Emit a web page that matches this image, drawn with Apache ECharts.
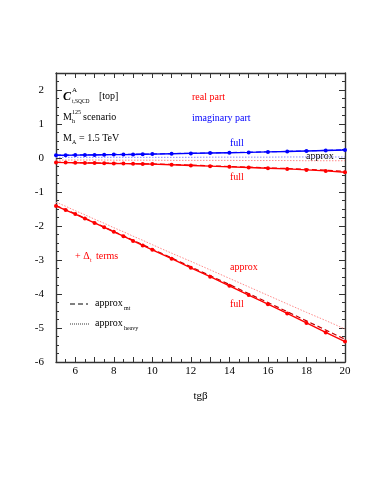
<!DOCTYPE html>
<html><head><meta charset="utf-8">
<script src="https://cdn.jsdelivr.net/npm/echarts@6/dist/echarts.min.js"></script>
<style>html,body{margin:0;padding:0;background:#fff}#c{width:383px;height:495px}</style>
</head><body><div id="c"></div>
<script>
// tg beta sample points
const tgb = [5,5.5,6,6.5,7,7.5,8,8.5,9,9.5,10,11,12,13,14,15,16,17,18,19,20];
// imaginary part (blue)
const imFull   = [0.08,0.08,0.085,0.09,0.09,0.095,0.10,0.10,0.105,0.11,0.115,0.125,0.135,0.145,0.155,0.165,0.18,0.19,0.205,0.22,0.235];
const imMt     = [0.085,0.085,0.09,0.095,0.095,0.10,0.105,0.105,0.11,0.115,0.12,0.13,0.14,0.15,0.16,0.17,0.185,0.195,0.21,0.225,0.24];
const imHeavy  = [0.02,0.02,0.02,0.02,0.02,0.02,0.02,0.02,0.02,0.02,0.02,0.02,0.02,0.025,0.025,0.025,0.025,0.03,0.03,0.03,0.03];
// real part (red)
const reFull   = [-0.13,-0.135,-0.14,-0.145,-0.15,-0.155,-0.16,-0.165,-0.17,-0.175,-0.18,-0.20,-0.22,-0.24,-0.26,-0.28,-0.30,-0.32,-0.35,-0.38,-0.42];
const reMt     = [-0.125,-0.13,-0.135,-0.14,-0.145,-0.15,-0.155,-0.16,-0.165,-0.17,-0.175,-0.19,-0.21,-0.23,-0.25,-0.27,-0.29,-0.31,-0.33,-0.36,-0.39];
const reHeavy  = [-0.06,-0.06,-0.06,-0.06,-0.06,-0.06,-0.065,-0.065,-0.065,-0.065,-0.065,-0.07,-0.07,-0.07,-0.07,-0.075,-0.075,-0.075,-0.08,-0.08,-0.08];
// real part + Delta_t terms (red)
const dtFull   = [-1.41,-1.53,-1.65,-1.78,-1.91,-2.04,-2.17,-2.30,-2.44,-2.57,-2.70,-2.96,-3.23,-3.49,-3.76,-4.03,-4.30,-4.57,-4.85,-5.13,-5.40];
const dtMt     = [-1.40,-1.52,-1.64,-1.77,-1.90,-2.03,-2.16,-2.29,-2.42,-2.55,-2.68,-2.94,-3.20,-3.46,-3.72,-3.99,-4.25,-4.52,-4.79,-5.06,-5.33];
const dtHeavy  = [-1.30,-1.42,-1.55,-1.67,-1.80,-1.92,-2.05,-2.17,-2.30,-2.42,-2.55,-2.80,-3.04,-3.29,-3.54,-3.79,-4.04,-4.29,-4.54,-4.78,-5.03];
const yTicks = [-6,-5,-4,-3,-2,-1,0,1,2];
const xTicks = [6,8,10,12,14,16,18,20];

const pair = a => tgb.map((x,i)=>[x,a[i]]);
const RED='#ff0000', BLUE='#0000ff', PINK='#ff8a8a', LBLUE='#8a8aff';
const F='Liberation Serif';
function full(name,d,c){return {name,type:'line',data:pair(d),symbol:'circle',symbolSize:4,itemStyle:{color:c},lineStyle:{color:c,width:1.4},z:5};}
function mt(name,d,c){return {name,type:'line',data:pair(d),symbol:'none',lineStyle:{color:c,width:1.2,type:[5,3]},z:4};}
function hv(name,d,c){return {name,type:'line',data:pair(d),symbol:'none',lineStyle:{color:c,width:1,type:[1.5,1.5]},z:3};}

const AX={color:'#333',width:1.4};
const baseX={type:'value',min:5,max:20,interval:1,axisLine:{show:true,onZero:false,lineStyle:AX},splitLine:{show:false},
  axisTick:{show:true,inside:true,length:5,lineStyle:{color:'#333'}},minorTick:{show:true,splitNumber:2,length:3,lineStyle:{color:'#333'}}};
const baseY={type:'value',min:-6,max:2.5,interval:1,axisLine:{show:true,onZero:false,lineStyle:AX},splitLine:{show:false},
  axisTick:{show:true,inside:true,length:6,lineStyle:{color:'#333'}},minorTick:{show:true,splitNumber:4,length:3,lineStyle:{color:'#333'}}};

function txt(x,y,t,size,color,extra){return {type:'text',left:x,top:y,style:Object.assign({text:t,font:(size||10)+'px "'+F+'"',fill:color||'#000'},extra||{})};}

const chart=echarts.init(document.getElementById('c'),null,{renderer:'canvas'});
chart.setOption({
  backgroundColor:'#fff',
  animation:false,
  grid:{left:56,right:38,top:73,bottom:133},
  xAxis:[
    Object.assign({},baseX,{position:'bottom',name:'tgβ',nameLocation:'middle',nameGap:29,nameTextStyle:{fontFamily:F,fontSize:11,color:'#000'},
      axisLabel:{fontFamily:F,fontSize:11,color:'#000',margin:4,formatter:v=>xTicks.indexOf(v)>=0?String(v):''}}),
    Object.assign({},baseX,{position:'top',axisLabel:{show:false}})
  ],
  yAxis:[
    Object.assign({},baseY,{position:'left',axisLabel:{fontFamily:F,fontSize:11,color:'#000',margin:12,formatter:v=>yTicks.indexOf(v)>=0?String(v):''}}),
    Object.assign({},baseY,{position:'right',axisLabel:{show:false}})
  ],
  series:[
    hv('im heavy',imHeavy,LBLUE), hv('re heavy',reHeavy,PINK), hv('dt heavy',dtHeavy,PINK),
    mt('im mt',imMt,'#3030ff'), mt('re mt',reMt,'#e00000'), mt('dt mt',dtMt,'#c00000'),
    full('im full',imFull,BLUE), full('re full',reFull,RED), full('dt full',dtFull,RED)
  ],
  graphic:[
    txt(63,91,'C',12,'#000',{font:'italic bold 12px "'+F+'"'}),
    txt(72,87,'A',7),
    txt(72,99,'t,SQCD',5.5),
    txt(99,91,'[top]',10),
    txt(192,92,'real part',10,RED),
    txt(63,112,'M',10),
    txt(72,118,'h',6),
    txt(72,109,'125',6),
    txt(83,112,'scenario',10),
    txt(192,113,'imaginary part',10,BLUE),
    txt(63,133,'M',10),
    txt(72,139,'A',6),
    txt(79,133,'= 1.5 TeV',10),
    txt(230,138,'full',10,BLUE),
    txt(306,151,'approx',10,'#000'),
    txt(230,172,'full',10,RED),
    txt(75,251,'+ Δ',10,RED),
    txt(90,257,'t',6,RED),
    txt(96,251,'terms',10,RED),
    txt(230,262,'approx',10,RED),
    txt(230,299,'full',10,RED),
    {type:'line',shape:{x1:70,y1:304,x2:88,y2:304},style:{stroke:'#000',lineWidth:1,lineDash:[5,3]}},
    txt(95,298,'approx',10),
    txt(124,305,'mt',6),
    {type:'line',shape:{x1:70,y1:324,x2:90,y2:324},style:{stroke:'#000',lineWidth:0.8,lineDash:[1,1]}},
    txt(95,318,'approx',10),
    txt(124,325,'heavy',6)
  ]
});
</script></body></html>
